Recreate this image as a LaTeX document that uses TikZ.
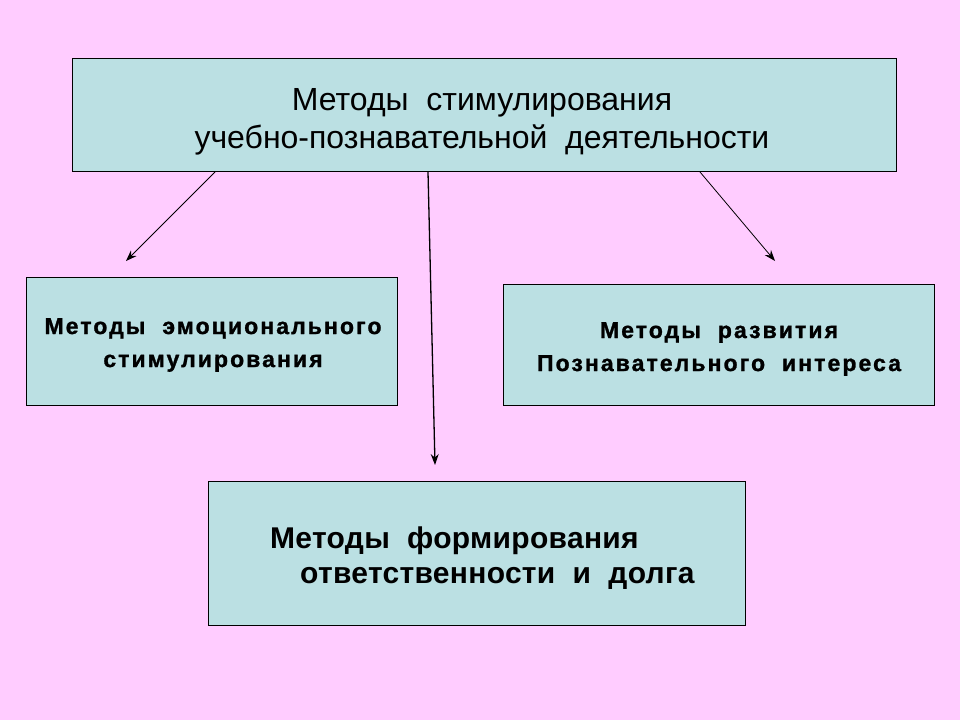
\documentclass[tikz,border=0pt]{standalone}
\usepackage{fontspec}
\setmainfont{Liberation Sans}
\newfontfamily\widebold[LetterSpace=9,FakeBold=1.2]{Liberation Sans Bold}
\newfontfamily\slightbold[LetterSpace=1]{Liberation Sans Bold}
\usetikzlibrary{arrows.meta,positioning}
\definecolor{slidepink}{RGB}{255,204,255}
\definecolor{boxcyan}{RGB}{187,224,227}
\tikzset{
  mbox/.style={rectangle, draw=black, fill=boxcyan, line width=1pt,
               inner sep=0pt, anchor=north west},
  mtitle/.style={font=\fontsize{32}{38}\selectfont, align=center, inner sep=0pt},
  msub/.style={font=\widebold\fontsize{23}{33}\selectfont, align=center, inner sep=0pt},
  mduty/.style={font=\slightbold\fontsize{30}{35}\selectfont, align=left, inner sep=0pt},
  marrow/.style={-{Stealth[length=11pt,width=8pt]}, line width=0.8pt, black},
}
\begin{document}
\begin{tikzpicture}[x=1pt, y=-1pt]
  \fill[slidepink] (0,0) rectangle (960,720);
  \useasboundingbox (0,0) rectangle (960,720);
  % boxes
  \node[mbox, minimum width=824pt, minimum height=113pt] (main) at (72,58) {};
  \node[mbox, minimum width=371pt, minimum height=128pt] (emo) at (26,277) {};
  \node[mbox, minimum width=431pt, minimum height=121pt] (cog) at (503,284) {};
  \node[mbox, minimum width=537pt, minimum height=144pt] (duty) at (208,481) {};
  % texts
  \node[mtitle] (maintxt) at (482,122) {Методы\ \ стимулирования\\учебно-познавательной\ \ деятельности};
  \node[msub] (emotxt) at (213,345) {Методы\ \ эмоционального\\стимулирования};
  \node[msub] (cogtxt) at (719,349) {Методы\ \ развития\\Познавательного\ \ интереса};
  \node[mduty, anchor=west] (dutytxt) at (270,558)
    {Методы\ \ формирования\\\hspace*{30pt}ответственности\ \ и\ \ долга};
  % arrows
  \coordinate (emoend) at (126,261);
  \coordinate (dutyend) at (435,465);
  \coordinate (cogend) at (775,261);
  \draw[marrow] (main.south -| 215,0) -- (emoend);
  \draw[marrow, line width=1.3pt] (main.south -| 428,0) -- (dutyend);
  \draw[marrow] (main.south -| 700,0) -- (cogend);
\end{tikzpicture}
\end{document}
